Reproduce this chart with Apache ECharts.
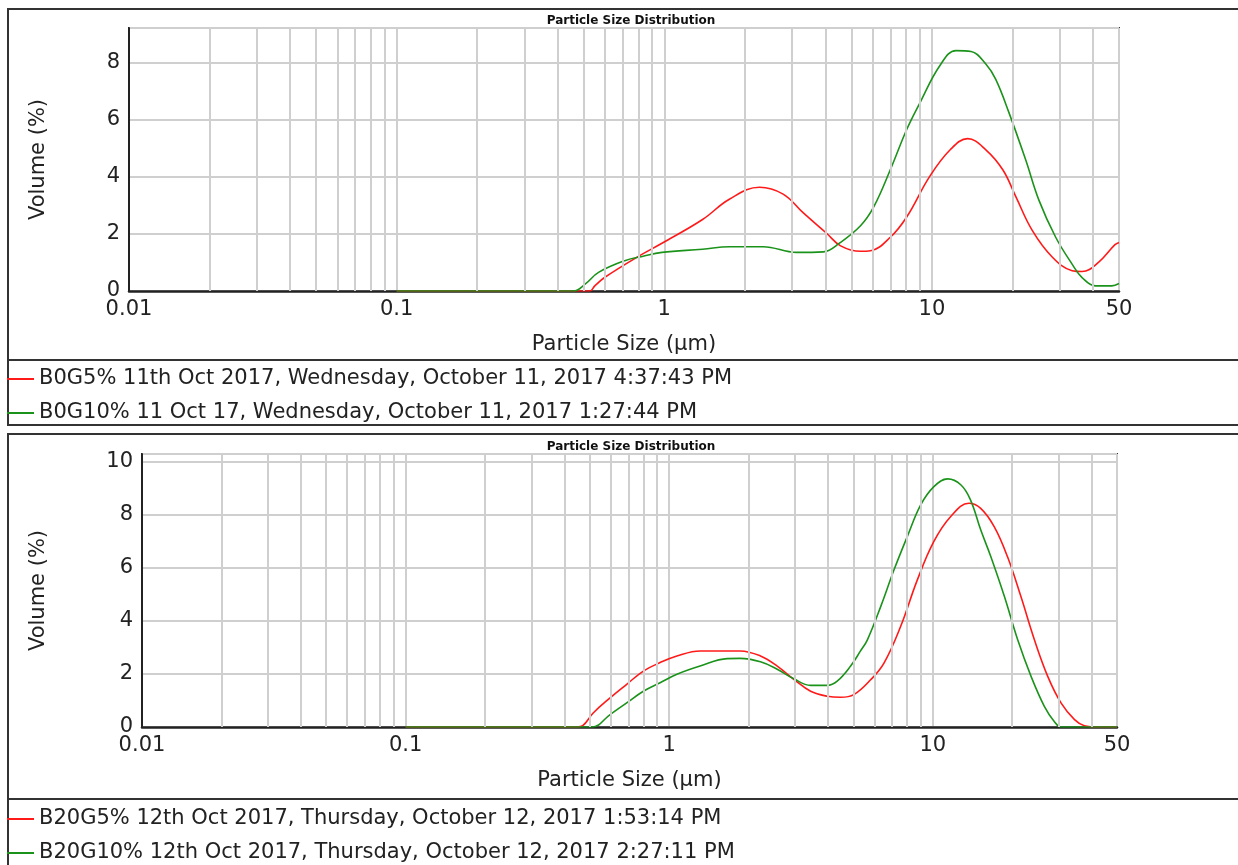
<!DOCTYPE html>
<html>
<head>
<meta charset="utf-8">
<title>Particle Size Distribution</title>
<script src="https://cdn.jsdelivr.net/npm/echarts@6/dist/echarts.min.js"></script>
<style>
  html, body { margin: 0; padding: 0; background: #fff; }
  #main { width: 1238px; height: 865px; }
</style>
</head>
<body>
<div id="main"></div>
<script>
// data: [size (µm), volume (%)]
var namesTop = ['B0G5% 11th Oct 2017, Wednesday, October 11, 2017 4:37:43 PM',
                'B0G10% 11 Oct 17, Wednesday, October 11, 2017 1:27:44 PM'];
var namesBottom = ['B20G5% 12th Oct 2017, Thursday, October 12, 2017 1:53:14 PM',
                   'B20G10% 12th Oct 2017, Thursday, October 12, 2017 2:27:11 PM'];

var b0g5 = [[0.1,0],[0.45,0],[0.527,0],[0.55,0.18],[0.6,0.48],[0.8,1.21],[0.98,1.67],[1.39,2.5],
  [1.75,3.21],[2.27,3.63],[2.78,3.39],[3.3,2.74],[4.04,2.02],[4.56,1.58],[5.41,1.39],[5.9,1.41],
  [6.99,1.88],[8.05,2.59],[9.8,4.0],[11.7,4.94],[13.6,5.33],[15.9,4.94],[18.4,4.24],[20.6,3.29],
  [23.7,2.12],[28.2,1.18],[33.4,0.71],[36.4,0.68],[41.9,1.0],[48.3,1.62],[50,1.7]];
var b0g10 = [[0.1,0],[0.457,0],[0.506,0.24],[0.568,0.65],[0.716,1.07],[0.827,1.21],[0.98,1.35],
  [1.39,1.46],[1.75,1.55],[2.34,1.55],[3.12,1.35],[3.93,1.37],[4.54,1.69],[5.41,2.28],[6.06,2.94],
  [6.99,4.24],[8.05,5.65],[9.03,6.59],[10.7,7.88],[12.3,8.41],[14.0,8.38],[15.9,7.94],[17.3,7.41],
  [19.4,6.24],[22.4,4.59],[25.1,3.18],[29.0,1.88],[33.4,0.94],[36.4,0.47],[40.8,0.18],[47,0.18],[50,0.26]];
var b20g5 = [[0.1,0],[0.447,0],[0.47,0.05],[0.515,0.53],[0.597,1.1],[0.69,1.61],[0.798,2.11],
  [0.924,2.43],[1.07,2.68],[1.31,2.87],[1.86,2.87],[2.22,2.68],[2.57,2.3],[2.97,1.8],[3.44,1.35],
  [3.98,1.16],[4.47,1.12],[5.02,1.22],[5.81,1.78],[6.53,2.41],[7.55,3.79],[8.74,5.55],[10.1,7.0],
  [11.7,7.94],[13.7,8.44],[15.2,8.25],[17.1,7.56],[19.2,6.43],[21.6,4.92],[24.3,3.29],[27.3,1.91],
  [30.7,0.9],[34.5,0.28],[37.6,0.05],[42.4,0],[50,0]];
var b20g10 = [[0.1,0],[0.508,0],[0.597,0.47],[0.69,0.91],[0.798,1.35],[0.924,1.67],[1.07,1.99],
  [1.31,2.3],[1.66,2.58],[1.86,2.59],[2.22,2.46],[2.57,2.18],[2.97,1.82],[3.44,1.57],[3.98,1.57],
  [4.34,1.73],[4.88,2.3],[5.32,2.87],[5.65,3.29],[6.35,4.55],[7.13,5.93],[8.01,7.19],[9.0,8.38],
  [10.1,9.07],[11.4,9.36],[12.8,9.13],[13.9,8.57],[15.2,7.44],[16.6,6.43],[18.7,4.92],[21.0,3.29],
  [23.6,1.91],[26.5,0.78],[28.9,0.21],[30.7,0],[50,0]];

// minor log grid lines
var minorSizes = [0.02,0.03,0.04,0.05,0.06,0.07,0.08,0.09,
                  0.2,0.3,0.4,0.5,0.6,0.7,0.8,0.9,
                  2,3,4,5,6,7,8,9,20,30,40];

var FONT = 'DejaVu Sans';
var RED = '#ff1a1a';
var GREEN = '#1b931b';
var GRIDC = '#cfcfcf';

function xAx(gi){
  return {
    type: 'log', logBase: 10, gridIndex: gi, min: 0.01, max: 50,
    name: 'Particle Size (\u00b5m)', nameLocation: 'middle', nameGap: 43,
    nameTextStyle: { fontFamily: FONT, fontSize: 21, color: '#222' },
    axisLine: { show: true, lineStyle: { color: '#222', width: 2.5 } },
    axisTick: { show: false },
    axisLabel: { fontFamily: FONT, fontSize: 21, color: '#222', margin: 8 },
    splitLine: { show: true, lineStyle: { color: GRIDC, width: 2 } }
  };
}
function yAx(gi, max, gap){
  return {
    type: 'value', gridIndex: gi, min: 0, max: max, interval: 2,
    name: 'Volume (%)', nameLocation: 'middle', nameGap: gap,
    nameTextStyle: { fontFamily: FONT, fontSize: 21, color: '#222' },
    axisLine: { show: true, lineStyle: { color: '#222', width: 2 } },
    axisTick: { show: false },
    axisLabel: { fontFamily: FONT, fontSize: 21, color: '#222', margin: 9, showMaxLabel: false },
    splitLine: { show: true, lineStyle: { color: GRIDC, width: 2 } }
  };
}
function curve(name, data, color, gi){
  return {
    name: name, type: 'line', xAxisIndex: gi, yAxisIndex: gi, data: data,
    smooth: 0.4, showSymbol: false, symbol: 'none',
    lineStyle: { color: color, width: 1.6 }, itemStyle: { color: color }, z: 3
  };
}
function minorLines(gi){
  return {
    type: 'line', xAxisIndex: gi, yAxisIndex: gi, data: [], z: 1, silent: true,
    markLine: {
      silent: true, symbol: ['none', 'none'], label: { show: false }, animation: false,
      lineStyle: { color: GRIDC, width: 2, type: 'solid' },
      data: minorSizes.map(function(v){ return { xAxis: v }; })
    }
  };
}
function legend(names, top){
  return {
    data: names, orient: 'vertical', left: 7, top: top, padding: 0, itemGap: 12,
    itemWidth: 27, itemHeight: 2, icon: 'rect', selectedMode: false,
    textStyle: { fontFamily: FONT, fontSize: 21, color: '#222', lineHeight: 22 }
  };
}
function titleAt(top){
  return {
    text: 'Particle Size Distribution', left: 626, top: top, textAlign: 'center',
    textStyle: { fontFamily: FONT, fontSize: 12, fontWeight: 'bold', color: '#111' }
  };
}

var chart = echarts.init(document.getElementById('main'), null, { renderer: 'canvas' });
chart.setOption({
  backgroundColor: '#fff',
  animation: false,
  title: [titleAt(10), titleAt(436)],
  legend: [legend(namesTop, 368), legend(namesBottom, 808)],
  grid: [
    { left: 129, right: 119, top: 28, height: 263, show: true, borderColor: '#333', borderWidth: 2, backgroundColor: '#fff' },
    { left: 142, right: 121, top: 454, height: 273, show: true, borderColor: '#333', borderWidth: 2, backgroundColor: '#fff' }
  ],
  xAxis: [xAx(0), xAx(1)],
  yAxis: [yAx(0, 9.2, 80), yAx(1, 10.3, 93)],
  series: [
    minorLines(0), minorLines(1),
    curve(namesTop[0], b0g5, RED, 0),
    curve(namesTop[1], b0g10, GREEN, 0),
    curve(namesBottom[0], b20g5, RED, 1),
    curve(namesBottom[1], b20g10, GREEN, 1)
  ],
  graphic: [
    { type: 'rect', shape: { x: 8, y: 9, width: 1240, height: 416 }, style: { fill: 'none', stroke: '#333', lineWidth: 2 }, z: -1, silent: true },
    { type: 'line', shape: { x1: 8, y1: 360, x2: 1248, y2: 360 }, style: { stroke: '#333', lineWidth: 2 }, silent: true },
    { type: 'rect', shape: { x: 8, y: 434, width: 1240, height: 440 }, style: { fill: 'none', stroke: '#333', lineWidth: 2 }, z: -1, silent: true },
    { type: 'line', shape: { x1: 8, y1: 799, x2: 1248, y2: 799 }, style: { stroke: '#333', lineWidth: 2 }, silent: true }
  ]
});
</script>
</body>
</html>
